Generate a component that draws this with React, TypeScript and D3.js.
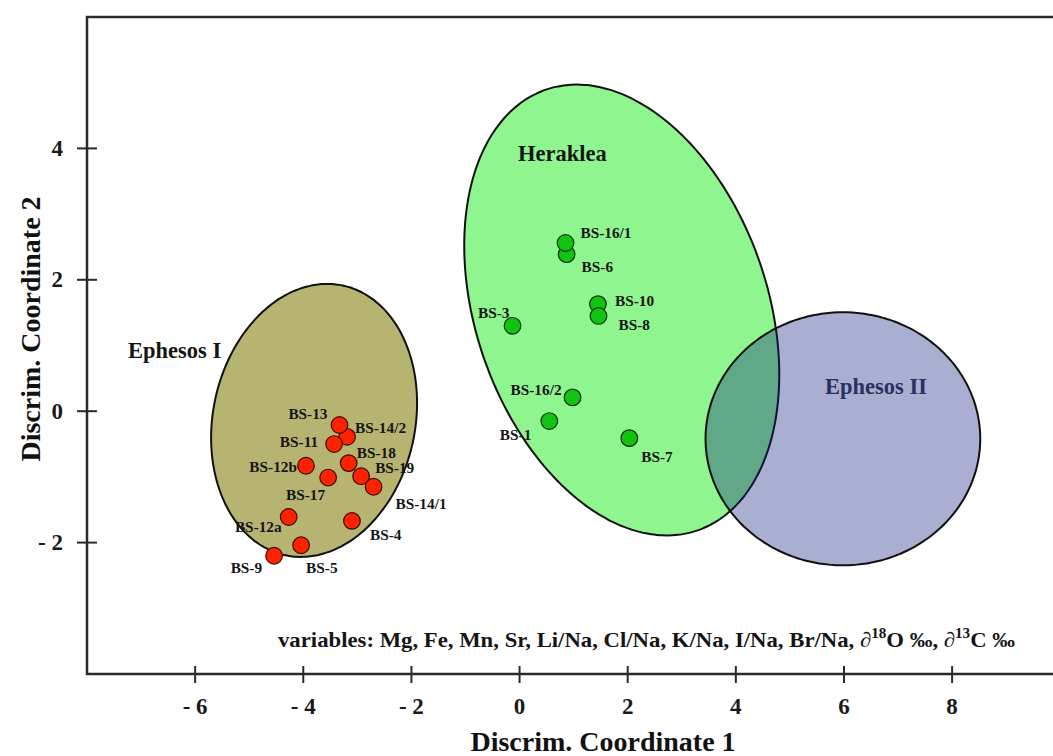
import React from "react";
import * as d3 from "d3";

// ---- data ----
const xTicks = [-6, -4, -2, 0, 2, 4, 6, 8];
const yTicks = [-2, 0, 2, 4];

const groupNames = ["Ephesos I", "Heraklea", "Ephesos II"];
// group ellipses (centre in data units, semi-axes in x-data units, rotation deg)
const ellipseCx = [-3.8, 1.89, 5.98];
const ellipseCy = [-0.14, 1.54, -0.42];
const ellipseA = [2.55, 4.31, 2.54];
const ellipseB = [1.87, 2.7, 2.34];
const ellipseAngle = [-78, 71, 0];

const ephesosINames = ["BS-14/2", "BS-13", "BS-11", "BS-12b", "BS-17", "BS-18", "BS-19", "BS-14/1", "BS-12a", "BS-4", "BS-5", "BS-9"];
const ephesosIX = [-3.19, -3.33, -3.43, -3.95, -3.54, -3.16, -2.93, -2.7, -4.27, -3.1, -4.04, -4.54];
const ephesosIY = [-0.39, -0.21, -0.5, -0.83, -1.01, -0.79, -0.99, -1.15, -1.61, -1.67, -2.04, -2.2];

const herakleaNames = ["BS-6", "BS-16/1", "BS-10", "BS-8", "BS-3", "BS-16/2", "BS-1", "BS-7"];
const herakleaX = [0.87, 0.85, 1.45, 1.46, -0.13, 0.98, 0.55, 2.03];
const herakleaY = [2.39, 2.56, 1.63, 1.45, 1.3, 0.21, -0.15, -0.41];

// label placement (layout only)
const labelPlace: Record<string, [string, number, number]> = {
  "BS-13": ["end", -12, -11],
  "BS-14/2": ["start", 8, -9],
  "BS-11": ["end", -16, -3],
  "BS-12b": ["end", -9, 1],
  "BS-17": ["end", -3, 17],
  "BS-18": ["start", 8, -11],
  "BS-19": ["start", 14, -9],
  "BS-14/1": ["start", 22, 17],
  "BS-12a": ["end", -7, 10],
  "BS-4": ["start", 18, 14],
  "BS-5": ["start", 5, 22],
  "BS-9": ["end", -12, 12],
  "BS-16/1": ["start", 15, -11],
  "BS-6": ["start", 15, 12],
  "BS-10": ["start", 17, -4],
  "BS-8": ["start", 20, 9],
  "BS-3": ["end", -3, -13],
  "BS-16/2": ["end", -11, -8],
  "BS-1": ["end", -18, 13],
  "BS-7": ["start", 12, 18],
};

const W = 1053;
const H = 756;
const left = 87;
const top = 17;
const bottom = 674;

const FONT = "'Liberation Serif', 'Times New Roman', serif";

export default function App() {
  const x = d3.scaleLinear().domain([-8, 10]).range([left, left + 18 * 54.07]);
  const y = d3.scaleLinear().domain([-4, 6]).range([bottom, top]);
  const kx = x(1) - x(0);

  const ellipsePath = (i: number) => {
    const cx = x(ellipseCx[i]);
    const cy = y(ellipseCy[i]);
    const a = ellipseA[i] * kx;
    const b = ellipseB[i] * kx;
    const phi = (ellipseAngle[i] * Math.PI) / 180;
    const pts = d3.range(0, 180).map((k) => {
      const t = (k / 180) * 2 * Math.PI;
      const ex = a * Math.cos(t);
      const ey = b * Math.sin(t);
      return [cx + ex * Math.cos(phi) - ey * Math.sin(phi), cy + ex * Math.sin(phi) + ey * Math.cos(phi)] as [number, number];
    });
    return d3.line().curve(d3.curveCardinalClosed)(pts) || "";
  };

  const fills = ["#b7b471", "#8ff58f", "rgba(12,26,126,0.35)"];
  const drawOrder = [1, 0, 2];

  const redPts = ephesosINames.map((n, i) => ({ n, x: ephesosIX[i], y: ephesosIY[i] }));
  const greenPts = herakleaNames.map((n, i) => ({ n, x: herakleaX[i], y: herakleaY[i] }));

  const renderLabel = (p: { n: string; x: number; y: number }) => {
    const [anchor, dx, dy] = labelPlace[p.n];
    return (
      <text
        key={"l" + p.n}
        x={x(p.x) + dx}
        y={y(p.y) + dy}
        textAnchor={anchor as any}
        dominantBaseline="central"
        fontSize={15.3}
        fontWeight="bold"
        fill="#151515"
      >
        {p.n}
      </text>
    );
  };

  return (
    <div style={{ position: "absolute", left: 0, top: 0 }}>
      <svg width={W} height={H} style={{ display: "block", background: "#fff" }} fontFamily={FONT}>
        {drawOrder.map((i) => (
          <path key={"e" + i} d={ellipsePath(i)} fill={fills[i]} stroke="#111" strokeWidth={2} />
        ))}

        {/* group labels */}
        <text x={128} y={350} dominantBaseline="central" fontSize={22.5} fontWeight="bold" fill="#151515">
          {groupNames[0]}
        </text>
        <text x={518} y={153} dominantBaseline="central" fontSize={22.5} fontWeight="bold" fill="#151515">
          {groupNames[1]}
        </text>
        <text x={825} y={386} dominantBaseline="central" fontSize={22.5} fontWeight="bold" fill="#2b3060">
          {groupNames[2]}
        </text>

        {/* points */}
        {redPts.map((p) => (
          <circle key={"r" + p.n} cx={x(p.x)} cy={y(p.y)} r={8.3} fill="#ff2200" stroke="#3a0a00" strokeWidth={1.2} />
        ))}
        {greenPts.map((p) => (
          <circle key={"g" + p.n} cx={x(p.x)} cy={y(p.y)} r={8.3} fill="#11c411" stroke="#0a300a" strokeWidth={1.2} />
        ))}
        {redPts.map(renderLabel)}
        {greenPts.map(renderLabel)}

        {/* variables note */}
        <text
          x={278}
          y={640}
          dominantBaseline="central"
          fontSize={21}
          fontWeight="bold"
          fill="#151515"
          textLength={737}
          lengthAdjust="spacingAndGlyphs"
        >
          variables: Mg, Fe, Mn, Sr, Li/Na, Cl/Na, K/Na, I/Na, Br/Na, ∂
          <tspan fontSize={14} dy={-7}>18</tspan>
          <tspan dy={7}>O ‰, ∂</tspan>
          <tspan fontSize={14} dy={-7}>13</tspan>
          <tspan dy={7}>C ‰</tspan>
        </text>

        {/* frame */}
        <path d={`M${W},${top} H${left} V${bottom} H${W}`} fill="none" stroke="#2a2a2a" strokeWidth={2.5} />

        {/* x axis ticks */}
        {xTicks.map((t) => (
          <g key={"xt" + t}>
            <line x1={x(t)} x2={x(t)} y1={bottom - 8} y2={bottom + 9} stroke="#2a2a2a" strokeWidth={2} />
            <text x={x(t)} y={706} textAnchor="middle" dominantBaseline="central" fontSize={23} fontWeight="bold" fill="#1a1a1a">
              {t < 0 ? `- ${-t}` : `${t}`}
            </text>
          </g>
        ))}
        {/* y axis ticks */}
        {yTicks.map((t) => (
          <g key={"yt" + t}>
            <line x1={left - 10} x2={left + 10} y1={y(t)} y2={y(t)} stroke="#2a2a2a" strokeWidth={2} />
            <text x={63} y={y(t)} textAnchor="end" dominantBaseline="central" fontSize={23} fontWeight="bold" fill="#1a1a1a">
              {t < 0 ? `- ${-t}` : `${t}`}
            </text>
          </g>
        ))}

        {/* axis titles */}
        <text x={603} y={741} textAnchor="middle" dominantBaseline="central" fontSize={28} fontWeight="bold" fill="#111">
          Discrim. Coordinate 1
        </text>
        <text
          transform={`translate(30,329) rotate(-90)`}
          textAnchor="middle"
          dominantBaseline="central"
          fontSize={28}
          fontWeight="bold"
          fill="#111"
        >
          Discrim. Coordinate 2
        </text>
      </svg>
    </div>
  );
}
